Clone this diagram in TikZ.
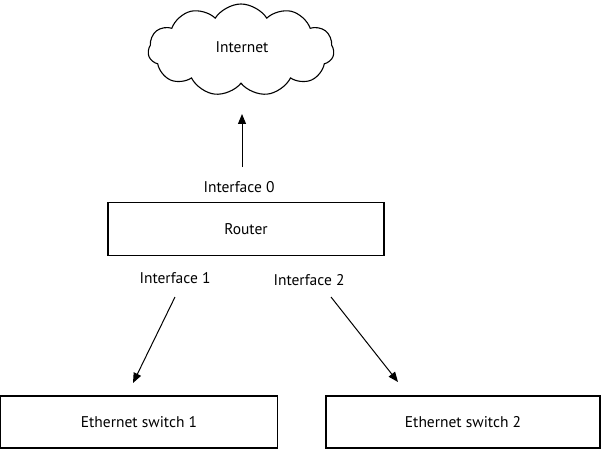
\documentclass[tikz,border=0pt]{standalone}
\usepackage{fontspec}
\setmainfont{PT Sans}
\usetikzlibrary{shapes.symbols,arrows.meta}
\begin{document}
\begin{tikzpicture}[x=1pt, y=-1pt, font=\fontsize{15.5}{18}\selectfont,
  box/.style={draw, line width=1.1pt, inner sep=0pt, outer sep=0pt, minimum height=53pt},
  link/.style={line width=1pt, -{Triangle[length=10pt,width=8pt]}}]
  \useasboundingbox (0,0) rectangle (601,449);

\node [draw, cloud, cloud puffs=11, cloud puff arc=115, aspect=2, line width=1.1pt,
       minimum width=186pt, minimum height=92pt, inner sep=0pt] (internet) at (241,50) {};
\node (internettext) at (242,47) {Internet};

\node [box, minimum width=276pt] (router) at (246,229) {Router};
\node [box, minimum width=277pt, minimum height=52pt] (switch1) at (139,422) {Ethernet switch 1};
\node [box, minimum width=274pt, minimum height=52pt] (switch2) at (463,422) {Ethernet switch 2};

\node (if0) at (239,187) {Interface 0};
\node (if1) at (175,278) {Interface 1};
\node (if2) at (309,280) {Interface 2};

\coordinate (up0) at (242,167);
\coordinate (up1) at (242,114);
\coordinate (a1) at (175,297);
\coordinate (b1) at (133,383);
\coordinate (a2) at (331,297);
\coordinate (b2) at (398,382);

\draw [link] (up0) -- (up1);
\draw [link] (a1) -- (b1);
\draw [link] (a2) -- (b2);
\end{tikzpicture}
\end{document}
